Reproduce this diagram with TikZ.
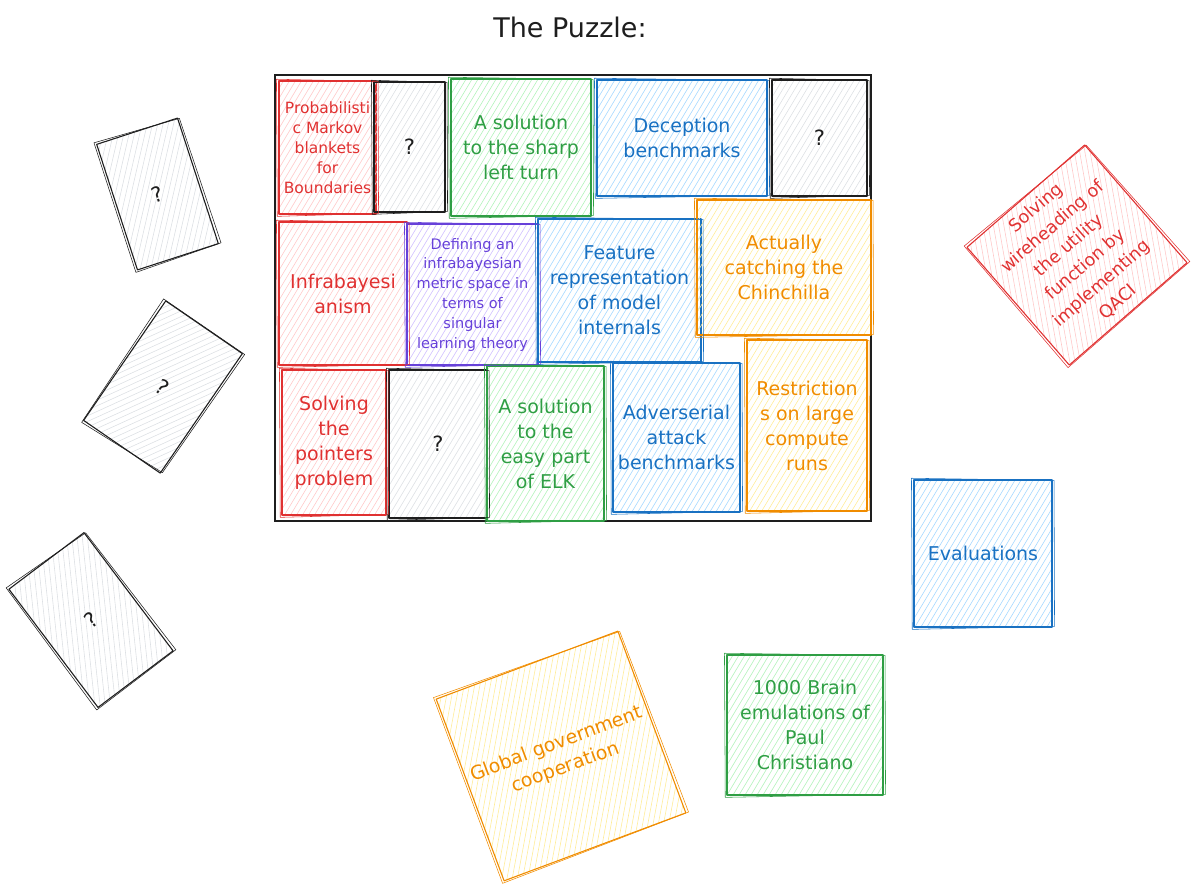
\documentclass[tikz,border=0pt]{standalone}
\usepackage{fontspec}
\setmainfont{DejaVu Sans}
\definecolor{cred}{HTML}{E03131}\definecolor{bred}{HTML}{FFC9C9}
\definecolor{cgreen}{HTML}{2F9E44}\definecolor{bgreen}{HTML}{B2F2BB}
\definecolor{cblue}{HTML}{1971C2}\definecolor{bblue}{HTML}{A5D8FF}
\definecolor{corange}{HTML}{F08C00}\definecolor{borange}{HTML}{FFEC99}
\definecolor{cviolet}{HTML}{6741D9}\definecolor{bviolet}{HTML}{D0BFFF}
\definecolor{cblack}{HTML}{1E1E1E}\definecolor{bgray}{HTML}{DDE0E4}
\begin{document}
\begin{tikzpicture}[x=1pt,y=-1pt]
\tikzset{
  hatch/.style={path picture={\foreach \k in {-36,...,36}{\draw[#1,line width=0.6pt] ([xshift=\k*6pt-120pt,yshift=-200pt]path picture bounding box.center) -- ++(240pt,400pt);}}},
  card/.style 2 args={rectangle, draw=#1, text=#1, hatch=#2, inner sep=2pt, align=center,
    line width=1.1pt, line join=round, font=\fontsize{19}{25}\selectfont},
  sz/.style 2 args={minimum width=#1pt, minimum height=#2pt},
  qcard/.style={card={cblack}{bgray}, font=\fontsize{21}{25}\selectfont},
  smalltext/.style={font=\fontsize{15.5}{20}\selectfont},
  sketchline/.style={line width=0.55pt, line join=round},
}
\useasboundingbox (0,0) rectangle (1199,891);

\node[text=cblack, font=\fontsize{27}{30}\selectfont] (title) at (570,27) {The Puzzle:};
\node[draw=cblack, line width=1.4pt, minimum width=596pt, minimum height=446pt] (frame) at (573,298) {};

% row 1
\node[card={cred}{bred}, sz={97}{133}, smalltext] (prob) at (327.5,147.5) {Probabilisti\\c Markov\\blankets\\for\\Boundaries};
\node[qcard, sz={71}{130}] (q1) at (409.5,147) {?};
\node[card={cgreen}{bgreen}, sz={140}{137}] (sharp) at (521,147.5) {A solution\\to the sharp\\left turn};
\node[card={cblue}{bblue}, sz={170}{116}] (decep) at (682,138) {Deception\\benchmarks};
\node[qcard, sz={95}{116}] (q2) at (819.5,138) {?};

% row 2
\node[card={cred}{bred}, sz={128}{143}] (infra) at (343,293.5) {Infrabayesi\\anism};
\node[card={cviolet}{bviolet}, sz={131}{141}, font=\fontsize{14.5}{19.8}\selectfont] (defin) at (472.5,294.5) {Defining an\\infrabayesian\\metric space in\\terms of\\singular\\learning theory};
\node[card={cblue}{bblue}, sz={163}{143}] (feat) at (619.5,290.5) {Feature\\representation\\of model\\internals};
\node[card={corange}{borange}, sz={174}{135}] (chin) at (784,267.5) {Actually\\catching the\\Chinchilla};

% row 3
\node[card={cred}{bred}, sz={104}{145}] (point) at (334,442.5) {Solving\\the\\pointers\\problem};
\node[qcard, sz={98}{148}] (q3) at (438,444) {?};
\node[card={cgreen}{bgreen}, sz={117}{155}] (elk) at (545.5,443.5) {A solution\\to the\\easy part\\of ELK};
\node[card={cblue}{bblue}, sz={127}{149}] (adv) at (676.5,437.5) {Adverserial\\attack\\benchmarks};
\node[card={corange}{borange}, sz={120}{171}] (restr) at (807,425.5) {Restriction\\s on large\\compute\\runs};

% loose cards
\node[qcard, sz={85}{132}, rotate=18] (l1) at (157.5,194) {?};
\node[qcard, sz={93}{145}, rotate=-34.5] (l2) at (163,387) {?};
\node[qcard, sz={94}{148}, rotate=37] (l3) at (91,620) {?};

\node[card={cred}{bred}, sz={156}{156}, rotate=41, font=\fontsize{17.5}{25}\selectfont] (wire) at (1077,255) {Solving\\wireheading of\\the utility\\function by\\implementing\\QACI};
\node[card={cblue}{bblue}, sz={138}{147}] (eval) at (983,553.5) {Evaluations};
\node[card={cgreen}{bgreen}, sz={156}{140}] (brain) at (805,725) {1000 Brain\\emulations of\\Paul\\Christiano};
\node[card={corange}{borange}, sz={194}{194}, rotate=20.5] (global) at (561,756) {Global government\\cooperation};

% hand-drawn second strokes
\foreach \n/\c in {prob/cred, q1/cblack, sharp/cgreen, decep/cblue, q2/cblack, infra/cred, defin/cviolet, feat/cblue, chin/corange, point/cred, q3/cblack, elk/cgreen, adv/cblue, restr/corange, l1/cblack, l2/cblack, l3/cblack, wire/cred, eval/cblue, brain/cgreen, global/corange}{
  \draw[\c, sketchline] ([shift={(-2pt,1.2pt)}]\n.north west) -- ([shift={(1.5pt,-1pt)}]\n.north east) -- ([shift={(2pt,1.2pt)}]\n.south east) -- ([shift={(-1.2pt,-1.8pt)}]\n.south west) -- cycle;
}
\end{tikzpicture}
\end{document}
